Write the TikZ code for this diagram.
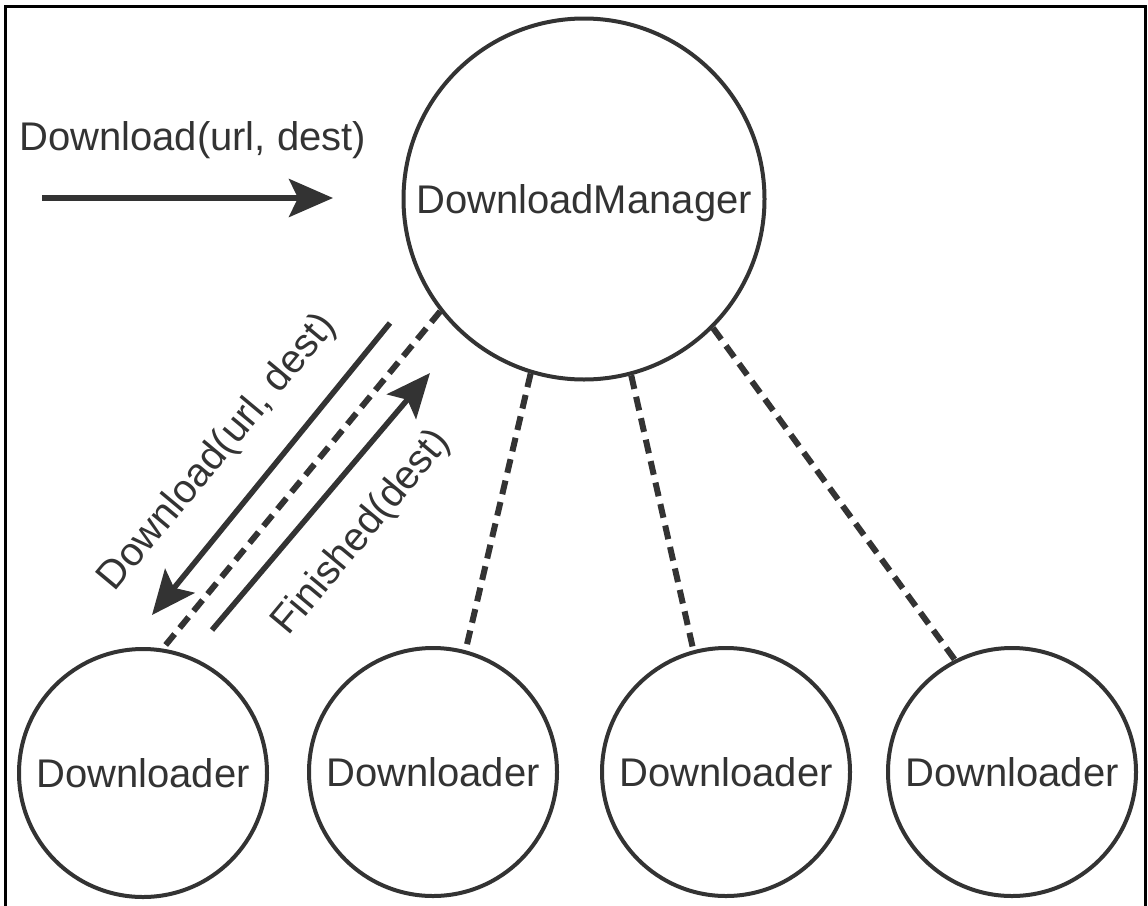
\documentclass[tikz,border=0pt]{standalone}
\usepackage{fontspec}
\setmainfont{Liberation Sans}
\usetikzlibrary{arrows.meta}
\definecolor{ink}{HTML}{333333}
\begin{document}
\begin{tikzpicture}[x=1pt,y=-1pt,
  agent/.style={circle,draw=ink,line width=4pt,inner sep=0pt,text depth=0pt,text=ink,font=\fontsize{40}{48}\selectfont},
  link/.style={draw=ink,line width=6pt,dash pattern=on 14pt off 8pt},
  msg/.style={draw=ink,line width=5.5pt,-{Stealth[length=44pt,width=38pt,inset=9pt]}},
  lbl/.style={text=ink,inner sep=0pt,font=\fontsize{40}{48}\selectfont}]
\useasboundingbox (0,0) rectangle (1148,905);
\draw[line width=3pt] (5,910) -- (5,6) -- (1145,6) -- (1145,910);
% manager and workers
\node[agent,minimum size=361pt] (mgr) at (584,199) {DownloadManager};
\node[agent,minimum size=248pt] (dl1) at (143,773) {Downloader};
\node[agent,minimum size=248pt] (dl2) at (433,772) {Downloader};
\node[agent,minimum size=248pt] (dl3) at (726,772) {Downloader};
\node[agent,minimum size=248pt] (dl4) at (1012,772) {Downloader};
\draw[link] (mgr.218.5) -- (dl1.81);
\draw[link] (mgr.253.7) -- (dl2.75.5);
\draw[link] (mgr.285.4) -- (dl3.105);
\draw[link] (mgr.315) -- (dl4.117.4);
% messages
\coordinate (callA) at (42,198);
\coordinate (callB) at (333,198);
\draw[msg] (callA) -- (callB);
\node[lbl,anchor=base west] (call) at (19,150) {Download(url, dest)};
\coordinate (sendA) at (390,323);
\coordinate (sendB) at (152,615);
\draw[msg] (sendA) -- (sendB);
\node[lbl,rotate=50.2] (send) at (218,453) {Download(url, dest)};
\coordinate (doneA) at (212,630);
\coordinate (doneB) at (430,373);
\draw[msg] (doneA) -- (doneB);
\node[lbl,rotate=50.2] (done) at (362,533) {Finished(dest)};
\end{tikzpicture}
\end{document}
